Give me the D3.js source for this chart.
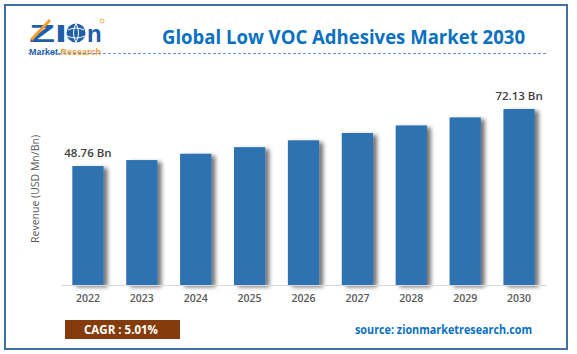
<!DOCTYPE html>
<html>
<head>
<meta charset="utf-8">
<script src="https://cdn.jsdelivr.net/npm/d3@7"></script>
<style>
  body { margin: 0; background: #fff; }
  svg { display: block; font-family: "Open Sans", "Noto Sans", sans-serif; }
</style>
</head>
<body>
<div id="chart"></div>
<script>
// chart data
const years = ["2022", "2023", "2024", "2025", "2026", "2027", "2028", "2029", "2030"];
const revenue = [48.76, 51.2, 53.8, 56.5, 59.3, 62.3, 65.4, 68.7, 72.13];
const labelledYears = ["2022", "2030"];
const titleText = "Global Low VOC Adhesives Market 2030";
const yLabel = "Revenue (USD Mn/Bn)";
const cagrText = "CAGR : 5.01%";
const sourceText = "source: zionmarketresearch.com";

const W = 577, H = 354;

const svg = d3.select("#chart")
  .append("svg")
  .attr("width", W)
  .attr("height", H);

// shadow for the bars
const defs = svg.append("defs");
const shadow = defs.append("filter")
  .attr("id", "barShadow")
  .attr("x", "-20%").attr("y", "-10%")
  .attr("width", "160%").attr("height", "130%");
shadow.append("feGaussianBlur").attr("in", "SourceAlpha").attr("stdDeviation", 2.2).attr("result", "blur");
shadow.append("feOffset").attr("in", "blur").attr("dx", 4).attr("dy", 2).attr("result", "off");
shadow.append("feComponentTransfer").attr("in", "off").attr("result", "soft")
  .append("feFuncA").attr("type", "linear").attr("slope", 0.55);
const merge = shadow.append("feMerge");
merge.append("feMergeNode").attr("in", "soft");
merge.append("feMergeNode").attr("in", "SourceGraphic");

// outer frame
svg.append("rect")
  .attr("x", 5).attr("y", 5)
  .attr("width", 562).attr("height", 344)
  .attr("fill", "none")
  .attr("stroke", "#41719c")
  .attr("stroke-width", 2);

// logo
const logo = svg.append("g");
logo.append("text")
  .attr("x", 29).attr("y", 42)
  .attr("font-family", "'Liberation Sans', Arial, sans-serif")
  .attr("font-weight", "bold")
  .attr("font-size", 24)
  .attr("fill", "#1f5ea8")
  .attr("textLength", 38)
  .attr("lengthAdjust", "spacingAndGlyphs")
  .text("ZI");
logo.append("path")
  .attr("d", "M31,40 L50,20")
  .attr("stroke", "#f39c2c")
  .attr("stroke-width", 3);
logo.append("circle")
  .attr("cx", 76).attr("cy", 33).attr("r", 9.5)
  .attr("fill", "#1f5ea8");
logo.append("path")
  .attr("d", "M68,30 Q76,26 84,30 M67,36 Q76,40 85,36 M76,23.5 Q71,33 76,42.5 M76,23.5 Q81,33 76,42.5")
  .attr("fill", "none")
  .attr("stroke", "#fff")
  .attr("stroke-width", 1);
logo.append("text")
  .attr("x", 87).attr("y", 42)
  .attr("font-family", "'Liberation Sans', Arial, sans-serif")
  .attr("font-weight", "bold")
  .attr("font-size", 24)
  .attr("fill", "#1f5ea8")
  .text("n");
logo.append("circle")
  .attr("cx", 102).attr("cy", 21).attr("r", 2)
  .attr("fill", "none").attr("stroke", "#f39c2c").attr("stroke-width", 0.8);
const sub = logo.append("text")
  .attr("x", 29).attr("y", 55)
  .attr("font-family", "'Liberation Sans', Arial, sans-serif")
  .attr("font-weight", "bold")
  .attr("font-size", 8.5)
  .attr("textLength", 72)
  .attr("lengthAdjust", "spacingAndGlyphs");
sub.append("tspan").attr("fill", "#1f5ea8").text("Market.");
sub.append("tspan").attr("fill", "#f39c2c").text("Research");

// title and dashed rule
svg.append("text")
  .attr("x", 162).attr("y", 44)
  .attr("font-weight", "bold")
  .attr("font-size", 19)
  .attr("fill", "#0a70c0")
  .attr("textLength", 363)
  .attr("lengthAdjust", "spacingAndGlyphs")
  .text(titleText);

svg.append("line")
  .attr("x1", 28).attr("x2", 547)
  .attr("y1", 53.5).attr("y2", 53.5)
  .attr("stroke", "#6f93d3")
  .attr("stroke-width", 1)
  .attr("stroke-dasharray", "3,2");

// scales
const x = d3.scaleBand()
  .domain(years)
  .range([61, 546])
  .paddingInner(0.42)
  .paddingOuter(0.21);

const y = d3.scaleLinear()
  .domain([0, 80])
  .range([285, 89.8]);

// bars
svg.append("g")
  .selectAll("rect")
  .data(years)
  .enter().append("rect")
  .attr("x", d => x(d))
  .attr("y", (d, i) => y(revenue[i]))
  .attr("width", x.bandwidth())
  .attr("height", (d, i) => y(0) - y(revenue[i]))
  .attr("fill", "#2f72b2")
  .attr("filter", "url(#barShadow)");

// x axis
const xAxis = svg.append("g")
  .attr("transform", `translate(0,${y(0)})`)
  .call(d3.axisBottom(x).tickSize(0).tickPadding(10));
xAxis.select(".domain")
  .attr("stroke", "#d9d9d9")
  .attr("stroke-width", 1.2);
xAxis.selectAll("text")
  .attr("font-family", "'Open Sans', sans-serif")
  .attr("font-size", 10.5)
  .attr("font-weight", "600")
  .attr("fill", "#595959");

// value labels on first and last bar
svg.append("g")
  .selectAll("text")
  .data(years.filter(d => labelledYears.includes(d)))
  .enter().append("text")
  .attr("x", d => x(d) + x.bandwidth() / 2)
  .attr("y", d => y(revenue[years.indexOf(d)]) - 9)
  .attr("text-anchor", "middle")
  .attr("font-size", 11.5)
  .attr("font-weight", "600")
  .attr("fill", "#404040")
  .text(d => `${revenue[years.indexOf(d)]} Bn`);

// y axis title
svg.append("text")
  .attr("transform", "translate(39,189) rotate(-90)")
  .attr("text-anchor", "middle")
  .attr("font-size", 11.5)
  .attr("fill", "#595959")
  .attr("textLength", 108)
  .attr("lengthAdjust", "spacingAndGlyphs")
  .text(yLabel);

// CAGR box
svg.append("rect")
  .attr("x", 65).attr("y", 320)
  .attr("width", 115).attr("height", 19)
  .attr("fill", "#843c0c");
svg.append("text")
  .attr("x", 121).attr("y", 334)
  .attr("text-anchor", "middle")
  .attr("font-size", 12.5)
  .attr("font-weight", "bold")
  .attr("fill", "#fff")
  .attr("textLength", 74)
  .attr("lengthAdjust", "spacingAndGlyphs")
  .text(cagrText);

// source
svg.append("text")
  .attr("x", 355).attr("y", 334)
  .attr("font-size", 12)
  .attr("font-weight", "bold")
  .attr("fill", "#0a70c0")
  .attr("textLength", 177)
  .attr("lengthAdjust", "spacingAndGlyphs")
  .text(sourceText);
</script>
</body>
</html>
